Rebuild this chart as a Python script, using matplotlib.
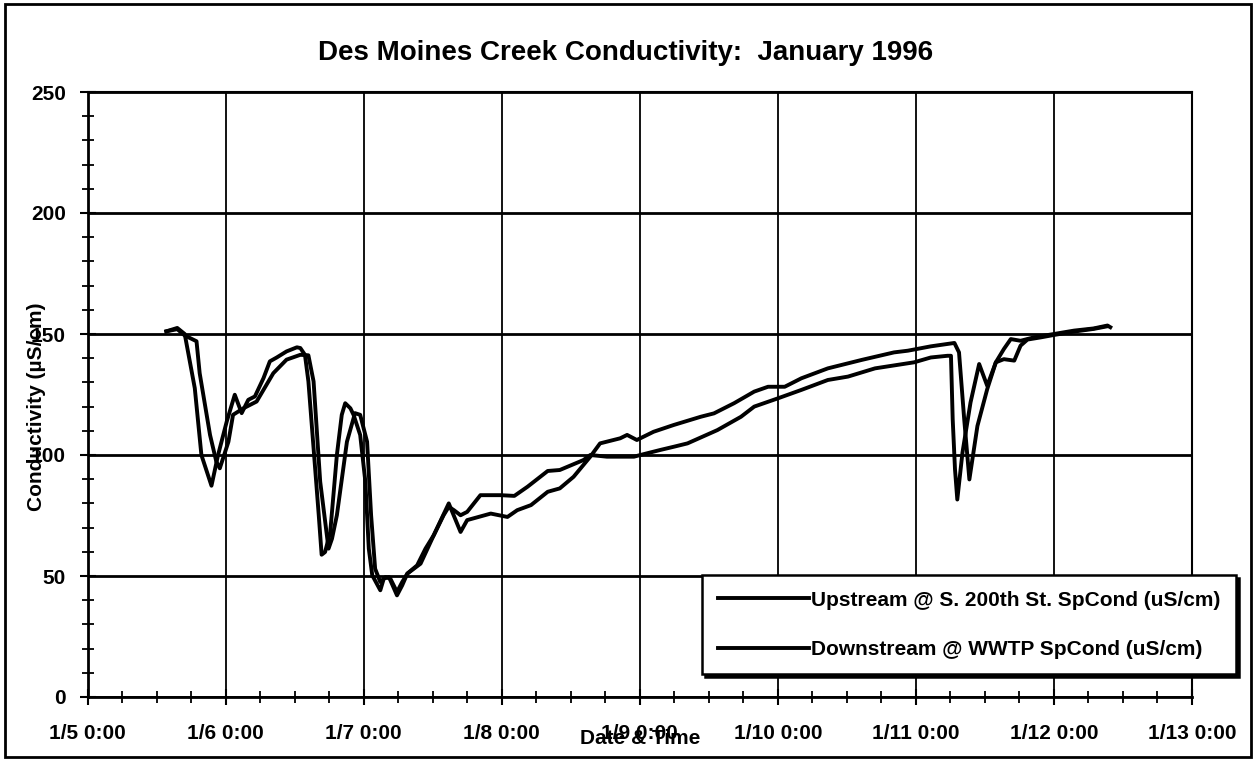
import numpy as np
import matplotlib
matplotlib.use("Agg")
import matplotlib.pyplot as plt
import matplotlib.dates as mdates
from matplotlib.ticker import MultipleLocator, FuncFormatter
from matplotlib.patches import Rectangle

plt.rcParams['font.family'] = ['Liberation Sans', 'DejaVu Sans']
plt.rcParams['font.weight'] = 'bold'

# hours after 1/5/1996 0:00 and specific conductance (uS/cm)
hours_up = [13.7, 15.6, 16.9, 18.65, 19.8, 21.55, 22.7, 24.2, 25.6, 26.8,
            27.95, 29.1, 30.6, 31.7, 32.9, 34.6, 36.4, 37.0, 37.8, 38.4,
            39.3, 40.2, 40.7, 41.3, 42.2, 43.35, 44.2, 44.8, 45.7, 46.25,
            47.4, 48.3, 48.9, 49.5, 50.9, 51.5, 52.4, 53.8, 54.7, 55.6,
            57.3, 58.75, 60.2, 61.9, 62.8, 63.7, 64.85, 66.0, 68.3, 71.8,
            74.2, 76.5, 80.0, 82.1, 86.2, 87.4, 90.3, 95.0, 96.1, 99.6,
            101.9, 104.3, 109.5, 113.6, 115.9, 120.0, 124.1, 128.7, 132.2, 136.9,
            143.7, 146.6, 149.5, 150.1, 150.4, 150.8, 151.2, 152.1, 153.5, 155.0,
            156.4, 157.9, 159.3, 160.5, 162.2, 164.5, 168.0, 171.5, 174.9, 177.3,
            177.8]
cond_up = [151.1, 152.5, 150.0, 127.6, 100.0, 87.3, 100.0, 113.8, 124.9, 117.3,
           122.8, 124.2, 131.8, 138.7, 140.3, 142.8, 144.5, 144.2, 141.4, 130.4,
           102.8, 75.1, 58.8, 59.9, 68.2, 100.0, 116.6, 121.4, 119.3, 116.6,
           108.3, 89.0, 61.3, 50.3, 44.1, 48.9, 49.6, 42.0, 46.1, 51.0,
           54.4, 61.3, 66.9, 75.1, 78.6, 77.2, 75.1, 76.5, 83.4, 83.4,
           83.1, 86.9, 93.4, 93.8, 97.9, 100.0, 99.3, 99.3, 100.0, 102.1,
           103.4, 104.8, 110.3, 115.8, 120.0, 123.4, 126.9, 131.0, 132.4, 135.8,
           138.3, 140.3, 141.0, 141.0, 114.8, 94.1, 81.6, 101.0, 121.7, 137.6,
           128.6, 138.3, 143.8, 147.9, 147.2, 148.6, 150.0, 151.4, 152.3, 153.5,
           152.8]

hours_down = [13.7, 15.6, 16.9, 18.95, 19.5, 21.3, 22.4, 23.0, 24.5, 25.3,
              27.1, 29.4, 32.3, 34.6, 37.0, 38.4, 39.3, 40.45, 41.9, 42.5,
              43.35, 45.1, 46.5, 47.4, 48.6, 49.3, 50.0, 50.9, 51.8, 52.65,
              53.8, 54.7, 55.6, 57.9, 60.2, 62.8, 64.85, 66.0, 70.1, 73.0,
              74.7, 77.1, 80.0, 82.1, 84.5, 87.4, 89.1, 92.6, 93.8, 95.5,
              98.4, 101.9, 106.6, 108.9, 112.4, 115.9, 118.3, 121.2, 124.1, 128.7,
              134.6, 140.2, 142.6, 146.6, 150.7, 151.5, 152.4, 153.3, 154.7, 156.4,
              157.9, 159.3, 161.1, 162.2, 163.4, 165.7, 168.0, 171.5, 174.9, 177.3]
cond_down = [151.1, 152.0, 149.4, 147.0, 133.8, 108.3, 97.2, 94.5, 105.5, 116.6,
             119.3, 122.1, 133.8, 139.4, 141.4, 141.2, 130.4, 89.0, 61.3, 65.4,
             75.1, 105.5, 117.3, 116.6, 105.5, 75.1, 53.0, 47.5, 49.6, 48.9,
             43.4, 47.5, 51.0, 55.1, 66.9, 80.0, 68.2, 73.1, 75.8, 74.4,
             77.2, 79.3, 84.8, 86.2, 91.0, 99.3, 104.8, 106.9, 108.3, 106.2,
             109.6, 112.4, 115.8, 117.2, 121.4, 126.2, 128.2, 128.2, 131.7, 135.8,
             139.3, 142.4, 143.1, 144.9, 146.3, 142.4, 114.8, 89.9, 112.0, 127.2,
             138.3, 139.6, 139.0, 145.2, 147.7, 148.6, 149.6, 151.0, 152.1, 153.2]

labels = ["Upstream @ S. 200th St. SpCond (uS/cm)",
          "Downstream @ WWTP SpCond (uS/cm)"]

start = np.datetime64('1996-01-05T00:00')


def to_time(hours):
    return start + (np.array(hours) * 60).round().astype(int).astype('timedelta64[m]')


fig = plt.figure(figsize=(12.54, 7.68), dpi=100)
W, H = 1254, 768
ax = fig.add_axes([87.5 / W, 1 - 697 / H, (1192 - 87.5) / W, (697 - 92) / H])

ax.plot(to_time(hours_up), cond_up, color='black', lw=2.8, label=labels[0])
ax.plot(to_time(hours_down), cond_down, color='black', lw=2.8, label=labels[1])

ax.set_xlim(start, start + np.timedelta64(8, 'D'))
ax.set_ylim(0, 250)

ax.xaxis.set_major_locator(mdates.DayLocator())
ax.xaxis.set_minor_locator(mdates.HourLocator(byhour=[6, 12, 18]))


def day_label(x, pos):
    d = mdates.num2date(x)
    return f"{d.month}/{d.day} {d.hour}:{d.minute:02d}"


ax.xaxis.set_major_formatter(FuncFormatter(day_label))
ax.yaxis.set_major_locator(MultipleLocator(50))
ax.yaxis.set_minor_locator(MultipleLocator(10))

ax.tick_params(which='major', direction='inout', length=11, width=1.5,
               labelsize=15, colors='black')
ax.tick_params(which='minor', direction='inout', length=9, width=1.3)
ax.tick_params(axis='x', which='major', pad=14)
ax.tick_params(axis='y', which='major', pad=10)

ax.grid(axis='y', which='major', color='black', lw=2.0)
ax.grid(axis='x', which='major', color='black', lw=1.3)
for side, spine in ax.spines.items():
    spine.set_color('black')
    spine.set_linewidth(2.0 if side in ('left', 'bottom') else 1.5)

ax.set_xlabel('Date & Time', fontsize=15, fontweight='bold')
ax.xaxis.set_label_coords(0.5, (697 - 729) / 605)
ax.set_ylabel('Conductivity (\u00b5S/cm)', fontsize=15, fontweight='bold')
ax.yaxis.set_label_coords((46 - 87.5) / 1104.5, 0.48)

fig.text(626 / W, 1 - 53 / H, 'Des Moines Creek Conductivity:  January 1996',
         ha='center', va='center', fontsize=20, fontweight='bold')

leg = fig.legend(loc='upper left', bbox_to_anchor=(702 / W, 1 - 575 / H),
                 frameon=True, fancybox=False, framealpha=1, edgecolor='black',
                 prop={'size': 15, 'weight': 'bold'}, handlelength=4.4,
                 handletextpad=0.1, labelspacing=1.45, borderpad=0.75,
                 borderaxespad=0, shadow={'color': 'black', 'alpha': 1})
leg.get_frame().set_linewidth(1.8)

fig.add_artist(Rectangle((5 / W, 1 - 757 / H), (1251 - 5) / W, (757 - 4) / H,
                         transform=fig.transFigure, fill=False,
                         edgecolor='black', lw=2))

fig.savefig('out.png', dpi=100, facecolor='white')
